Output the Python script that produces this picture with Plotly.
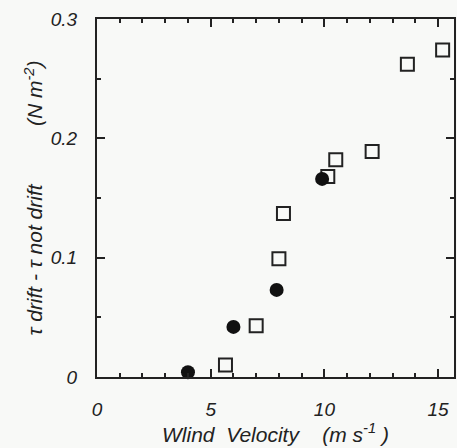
import plotly.graph_objects as go

# Data
drift_x = [4.0, 6.0, 7.9, 9.9]
drift_y = [0.004, 0.042, 0.073, 0.166]
sq_x = [5.65, 7.0, 8.0, 8.2, 10.15, 10.5, 12.1, 13.65, 15.2]
sq_y = [0.010, 0.043, 0.099, 0.137, 0.168, 0.182, 0.189, 0.262, 0.274]
x_ticks = [0, 5, 10, 15]
y_ticks = [0, 0.1, 0.2, 0.3]
y_tick_text = ["0", "0.1", "0.2", "0.3"]

ink = "#222222"
tick_fnt = dict(family="Liberation Sans, Arial, sans-serif", size=19, color=ink, style="italic")
title_fnt = dict(family="Liberation Sans, Arial, sans-serif", size=21, color=ink, style="italic")

fig = go.Figure()
fig.add_trace(go.Scatter(x=sq_x, y=sq_y, mode="markers",
                         marker=dict(symbol="square-open", size=13, color=ink,
                                     line=dict(width=2, color=ink)),
                         showlegend=False, cliponaxis=False))
fig.add_trace(go.Scatter(x=drift_x, y=drift_y, mode="markers",
                         marker=dict(symbol="circle", size=14, color="#111111"),
                         showlegend=False, cliponaxis=False))

axis_common = dict(showgrid=False, zeroline=False, showline=True, linecolor=ink,
                   linewidth=2, mirror="allticks", ticks="inside", tickcolor=ink,
                   tickwidth=2, ticklen=8, tickfont=tick_fnt)

fig.update_xaxes(range=[0, 15.7], tickvals=x_ticks, ticktext=[str(v) for v in x_ticks],
                 minor=dict(dtick=1, ticks="inside", ticklen=4, tickwidth=2, tickcolor=ink),
                 ticklabelstandoff=14,
                 title=dict(text="Wlind  Velocity    (m s<sup>-1</sup> )", font=title_fnt, standoff=6),
                 **axis_common)
fig.update_yaxes(range=[0, 0.3], tickvals=y_ticks, ticktext=y_tick_text,
                 minor=dict(dtick=0.05, ticks="inside", ticklen=4, tickwidth=2, tickcolor=ink),
                 ticklabelstandoff=14,
                 title=dict(text="τ drift - τ not drift          (N m<sup>-2</sup>)", font=title_fnt, standoff=2),
                 **axis_common)

fig.update_layout(width=457, height=448, margin=dict(l=97, r=3, t=19, b=71, autoexpand=False),
                  paper_bgcolor="#f8f9f7", plot_bgcolor="#f8f9f7", font=tick_fnt)
fig.write_html("out.html", config={"displayModeBar": False},
               post_script="document.body.style.margin='0';document.body.style.padding='0';")
